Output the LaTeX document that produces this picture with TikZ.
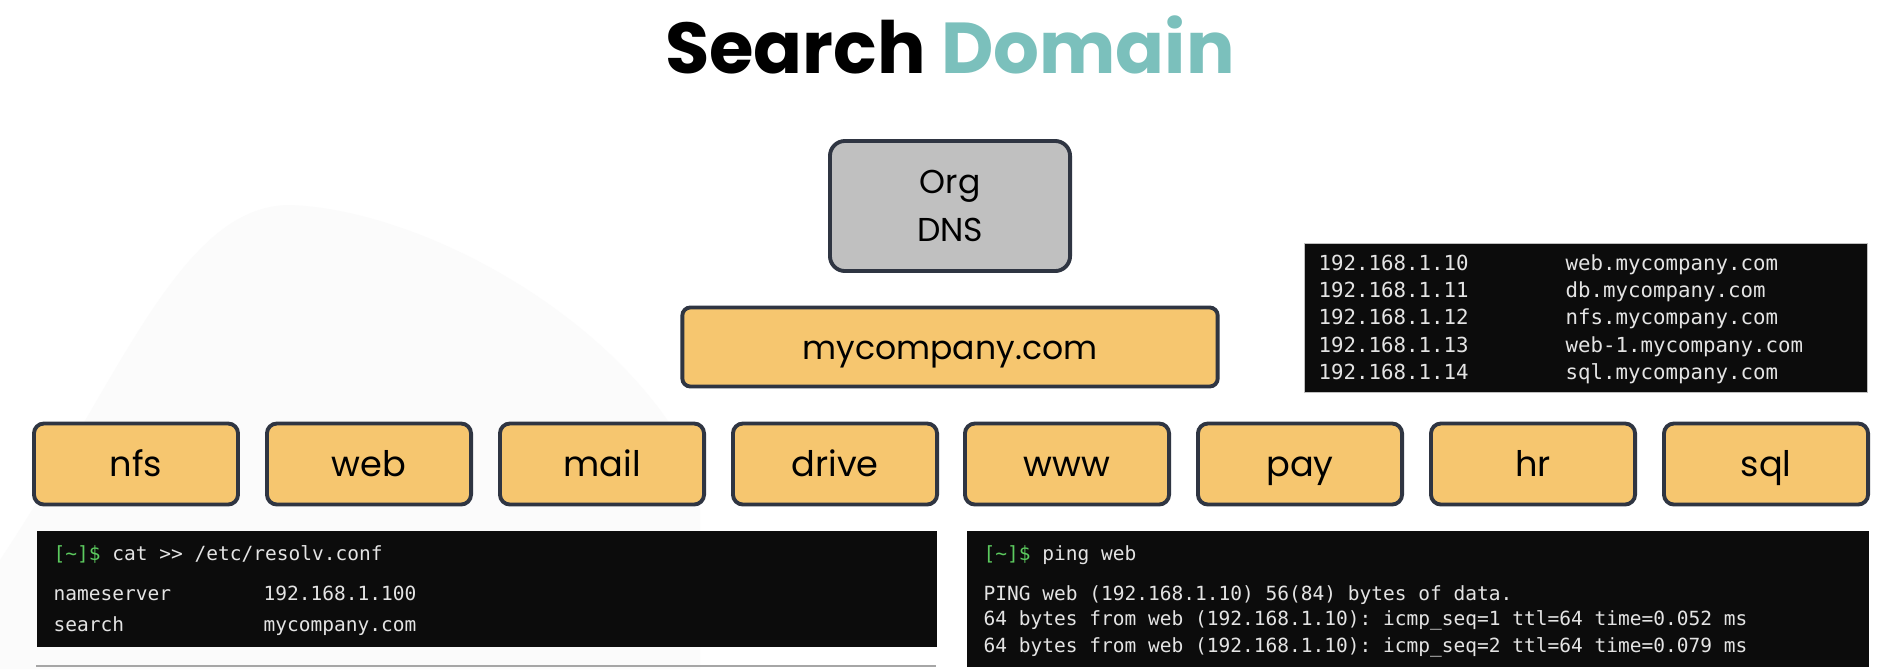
\documentclass[tikz,border=0pt]{standalone}
\usepackage{fontspec}
\setmainfont{Poppins}
\setmonofont{DejaVu Sans Mono}

\definecolor{boxline}{HTML}{2F3542}
\definecolor{boxfill}{HTML}{F6C66F}
\definecolor{dnsfill}{HTML}{C0C0C0}
\definecolor{domteal}{HTML}{7BC0BC}
\definecolor{termbg}{HTML}{0C0C0C}
\definecolor{termtxt}{HTML}{E4E4E4}
\definecolor{promptgreen}{HTML}{5CCB5F}
\definecolor{blobgray}{HTML}{FBFBFB}

\tikzset{
  leaf/.style={draw=boxline, fill=boxfill, line width=1.1pt, rounded corners=0.1cm,
    minimum width=2.04cm, minimum height=0.81cm, inner sep=0,
    text height=9.2pt, text depth=2pt, font=\fontsize{10}{12}\selectfont},
  term/.style={fill=termbg, inner sep=0, anchor=north west},
  tline/.style={font=\ttfamily\fontsize{5.55}{6.5}\selectfont, text=termtxt,
    anchor=base west, inner sep=0},
}

\begin{document}
\begin{tikzpicture}[x=0.01cm, y=-0.01cm]

    \useasboundingbox (0,0) rectangle (1886,669);
    \fill[white] (0,0) rectangle (1886,669);
    \fill[blobgray] (0,669) -- (0,560) .. controls (120,380) and (180,205) .. (290,205)
        .. controls (430,210) and (640,330) .. (700,480) -- (700,669) -- cycle;

    % title
    \node (title) at (950,45) {\fontsize{20.5}{24}\bfseries Search {\color{domteal}Domain}};

    % dns tree
    \node (org) [draw=boxline, fill=dnsfill, line width=1.1pt, rounded corners=0.15cm,
        minimum width=2.4cm, minimum height=1.3cm, inner sep=0, align=center,
        font=\fontsize{9.4}{13.6}\selectfont] at (950,206) {Org\\DNS};
    \node (dom) [draw=boxline, fill=boxfill, line width=1.1pt, rounded corners=0.08cm,
        minimum width=5.35cm, minimum height=0.79cm, inner sep=0,
        text height=9pt, text depth=2pt, font=\fontsize{9.4}{12}\selectfont]
        at (950,347) {mycompany.com};

    \node (nfs) [leaf] at (136,464) {nfs};
    \node (web) [leaf] at (369,464) {web};
    \node (mail) [leaf] at (602,464) {mail};
    \node (drive) [leaf] at (835,464) {drive};
    \node (www) [leaf] at (1067,464) {www};
    \node (pay) [leaf] at (1300,464) {pay};
    \node (hr) [leaf] at (1533,464) {hr};
    \node (sql) [leaf] at (1766,464) {sql};

    % hosts file
    \node (hosts) [term, draw=gray!50, line width=0.3pt, minimum width=5.63cm,
        minimum height=1.49cm] at (1304,243) {};
    \tikzset{tline/.append style={font=\ttfamily\fontsize{5.9}{7}\selectfont}}
    \node (h1a) [tline] at (1318,270) {192.168.1.10};
    \node (h1b) [tline] at (1565,270) {web.mycompany.com};
    \node (h2a) [tline] at (1318,297) {192.168.1.11};
    \node (h2b) [tline] at (1565,297) {db.mycompany.com};
    \node (h3a) [tline] at (1318,324) {192.168.1.12};
    \node (h3b) [tline] at (1565,324) {nfs.mycompany.com};
    \node (h4a) [tline] at (1318,352) {192.168.1.13};
    \node (h4b) [tline] at (1565,352) {web-1.mycompany.com};
    \node (h5a) [tline] at (1318,379) {192.168.1.14};
    \node (h5b) [tline] at (1565,379) {sql.mycompany.com};
    \tikzset{tline/.append style={font=\ttfamily\fontsize{5.55}{6.5}\selectfont}}

    % resolv.conf
    \node (resolv) [term, minimum width=9.0cm, minimum height=1.16cm] at (36,530) {};
    \node (r0) [tline] at (53,560) {\textcolor{promptgreen}{[\char`\~]\$} cat >> /etc/resolv.conf};
    \node (r1a) [tline] at (53,600) {nameserver};
    \node (r1b) [tline] at (263,600) {192.168.1.100};
    \node (r2a) [tline] at (53,631) {search};
    \node (r2b) [tline] at (263,631) {mycompany.com};
    \coordinate (cutL) at (36,666);
    \coordinate (cutR) at (936,666);
    \draw[gray!70, line width=0.6pt] (cutL) -- (cutR);

    % ping
    \node (ping) [term, minimum width=9.02cm, minimum height=1.36cm] at (966,530) {};
    \node (p0) [tline] at (983,560) {\textcolor{promptgreen}{[\char`\~]\$} ping web};
    \node (p1) [tline] at (983,600) {PING web (192.168.1.10) 56(84) bytes of data.};
    \node (p2) [tline] at (983,625) {64 bytes from web (192.168.1.10): icmp\_seq=1 ttl=64 time=0.052 ms};
    \node (p3) [tline] at (983,652) {64 bytes from web (192.168.1.10): icmp\_seq=2 ttl=64 time=0.079 ms};

\end{tikzpicture}
\end{document}
